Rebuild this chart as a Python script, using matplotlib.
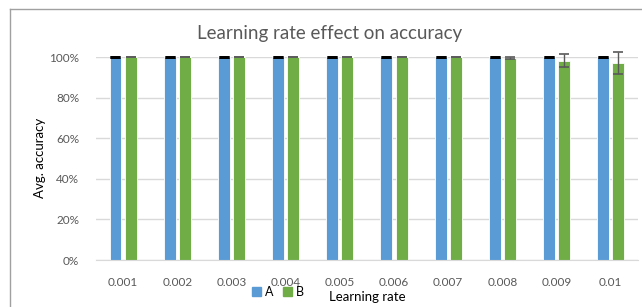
import matplotlib.pyplot as plt
import matplotlib.patches as mpatches
from matplotlib.lines import Line2D
from matplotlib.ticker import PercentFormatter
import numpy as np

plt.rcParams['font.family'] = ['Lato', 'DejaVu Sans']

# Learning rates and average accuracies (fraction)
rates = ["0.001", "0.002", "0.003", "0.004", "0.005", "0.006", "0.007", "0.008", "0.009", "0.01"]
acc_a = [1.0, 1.0, 1.0, 1.0, 1.0, 1.0, 1.0, 1.0, 1.0, 1.0]
acc_b = [1.0, 1.0, 1.0, 1.0, 1.0, 1.0, 1.0, 0.996, 0.982, 0.970]
err_a = [0.0, 0.0, 0.0, 0.0, 0.0, 0.0, 0.0, 0.0, 0.0, 0.0]
err_b = [0.0, 0.0, 0.0, 0.0, 0.0, 0.0, 0.0, 0.005, 0.032, 0.053]

blue = "#5B9BD5"
green = "#70AD47"
text_gray = "#595959"

fig = plt.figure(figsize=(6.42, 3.07), dpi=100)
ax = fig.add_axes([0.1495, 0.153, 0.844, 0.661])

# chart border (only left and top edges are inside the picture)
bx = 10.5 / 642
by = 1 - 8.5 / 307
fig.lines.append(Line2D([bx, bx], [0, by], transform=fig.transFigure,
                        color="#a0a0a0", linewidth=1.0))
fig.lines.append(Line2D([bx, 1], [by, by], transform=fig.transFigure,
                        color="#a0a0a0", linewidth=1.0))

x = np.arange(len(rates))
w = 0.22
off = 0.14
ax.bar(x - off, acc_a, w, color=blue, edgecolor="white", linewidth=0.6, zorder=2)
ax.bar(x + off, acc_b, w, color=green, edgecolor="white", linewidth=0.6, zorder=2)
ax.errorbar(x - off, acc_a, yerr=err_a, fmt="none", ecolor="black",
            elinewidth=1, capsize=3.5, capthick=2, zorder=3, clip_on=False)
ax.errorbar(x + off, acc_b, yerr=err_b, fmt="none", ecolor="#595959",
            elinewidth=1, capsize=3.5, capthick=1.2, zorder=3, clip_on=False)

ax.set_xlim(-0.5, len(rates) - 0.5)
ax.set_ylim(0, 1)
ax.set_yticks(np.arange(0, 1.01, 0.2))
ax.yaxis.set_major_formatter(PercentFormatter(1.0, decimals=0))
ax.set_xticks(x)
ax.set_xticklabels(rates)
ax.grid(axis="y", color="#D9D9D9", linewidth=1, zorder=0)
ax.set_axisbelow(True)
for s in ["top", "right", "left"]:
    ax.spines[s].set_visible(False)
ax.spines["bottom"].set_color("#D9D9D9")
ax.tick_params(axis="both", length=0, labelsize=8.5, colors=text_gray)
ax.tick_params(axis="x", pad=12)
ax.tick_params(axis="y", pad=12)

fig.text(40 / 642, 1 - 158 / 307, "Avg. accuracy", rotation=90, ha="center",
         va="center", fontsize=9.5, color="black")
fig.text(367 / 642, 1 - 297 / 307, "Learning rate", ha="center", va="center",
         fontsize=9.5, color="black")
fig.text(330 / 642, 1 - 33 / 307, "Learning rate effect on accuracy", ha="center",
         va="center", fontsize=13.5, color=text_gray)

handles = [mpatches.Patch(color=blue, label="A"), mpatches.Patch(color=green, label="B")]
fig.legend(handles=handles, loc="center", bbox_to_anchor=(278 / 642, 1 - 292 / 307),
           ncol=2, frameon=False, fontsize=9, handlelength=0.7, handleheight=0.7,
           handletextpad=0.3, columnspacing=0.8, borderpad=0)

fig.savefig("out.png", dpi=100)
